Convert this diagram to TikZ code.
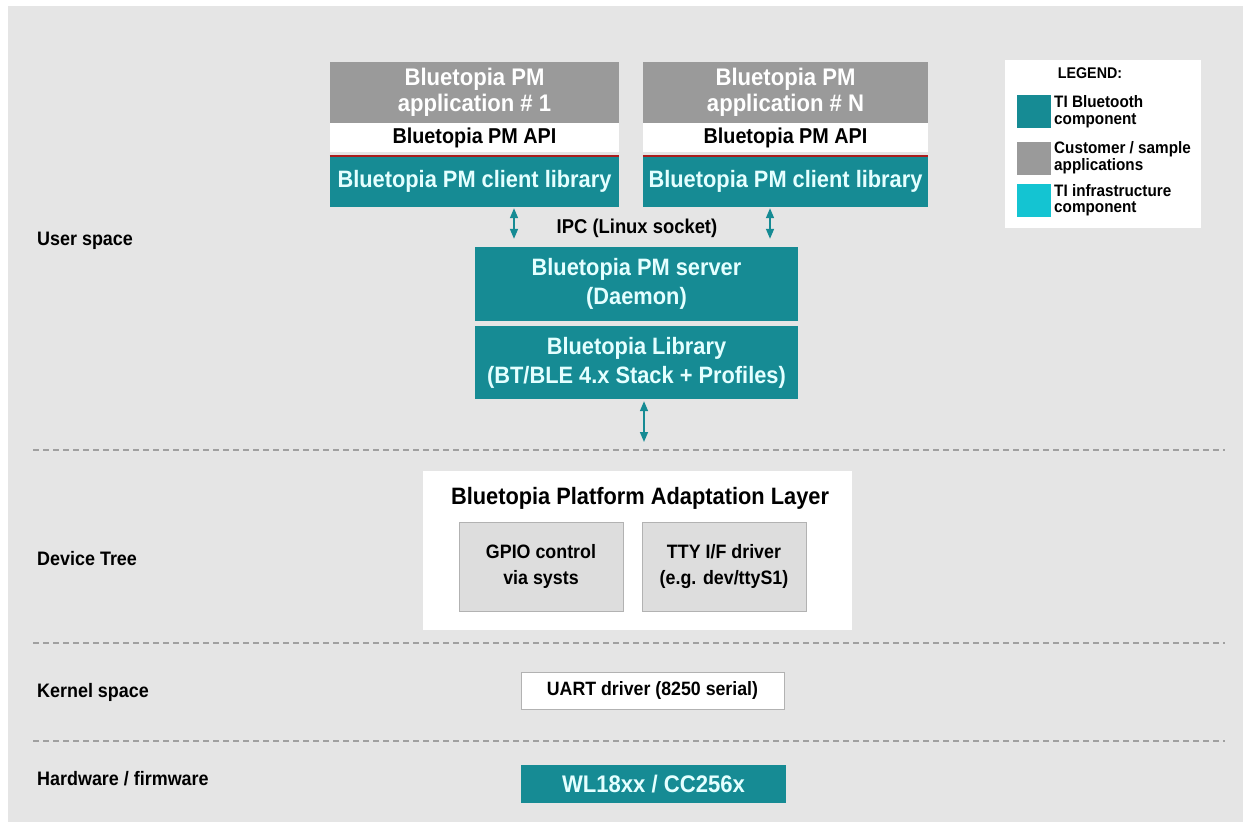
\documentclass[tikz,border=0pt]{standalone}
\usepackage{fontspec}
\setmainfont{Liberation Sans}[FakeStretch=0.92]
\usetikzlibrary{arrows.meta}
\definecolor{tiTeal}{RGB}{22,139,148}
\definecolor{tealText}{RGB}{228,255,255}
\definecolor{appGray}{RGB}{154,154,154}
\definecolor{infraCyan}{RGB}{20,196,210}
\definecolor{bgGray}{RGB}{229,229,229}
\definecolor{innerGray}{RGB}{221,221,221}
\definecolor{innerLine}{RGB}{178,178,178}
\definecolor{dashGray}{RGB}{160,160,160}
\definecolor{apiRed}{RGB}{170,30,30}
\begin{document}
\begin{tikzpicture}[x=1pt,y=-1pt,
  blk/.style={inner sep=0pt, align=center, font=\bfseries\fontsize{23.7}{29}\selectfont},
  tealbox/.style={blk, fill=tiTeal, text=tealText},
  appbox/.style={blk, fill=appGray, text=white, font=\bfseries\fontsize{24}{26}\selectfont},
  apibox/.style={blk, fill=white, text=black, font=\bfseries\fontsize{21.5}{24}\selectfont},
  innerbox/.style={blk, fill=innerGray, draw=innerLine, line width=1pt, text=black, font=\bfseries\fontsize{19.4}{26}\selectfont},
  lbl/.style={anchor=west, inner sep=0pt, font=\bfseries\fontsize{19.5}{22}\selectfont},
  legtxt/.style={anchor=west, inner sep=0pt, align=left, font=\bfseries\fontsize{16.6}{16.5}\selectfont},
  swatch/.style={minimum width=34pt, minimum height=33pt, inner sep=0pt},
  sep/.style={dashGray, line width=1.6pt, dash pattern=on 6pt off 4pt},
  arr/.style={tiTeal, line width=1.6pt, {Triangle[width=8pt,length=10pt]}-{Triangle[width=8pt,length=10pt]}}
]
\useasboundingbox (0,0) rectangle (1243,822);
\fill[white] (0,0) rectangle (1243,822);
\fill[bgGray] (8,6) rectangle (1243,822);

% separators
\coordinate (s1l) at (33,450); \coordinate (s1r) at (1225,450);
\coordinate (s2l) at (33,643); \coordinate (s2r) at (1225,643);
\coordinate (s3l) at (33,741); \coordinate (s3r) at (1225,741);
\draw[sep] (s1l) -- (s1r);
\draw[sep] (s2l) -- (s2r);
\draw[sep] (s3l) -- (s3r);

% layer labels
\node[lbl] (uspace) at (37,241) {User space};
\node[lbl] (dtree) at (37,559) {Device Tree};
\node[lbl] (kspace) at (37,692) {Kernel space};
\node[lbl] (hwfw) at (37,779) {Hardware / firmware};

% application stacks
\node[appbox, minimum width=289pt, minimum height=61pt] (app1) at (474.5,92.5) {Bluetopia PM\\application \# 1};
\node[apibox, minimum width=289pt, minimum height=29pt] (api1) at (474.5,137.5) {Bluetopia PM API};
\node[tealbox, minimum width=289pt, minimum height=52pt] (cl1) at (474.5,181) {Bluetopia PM client library};
\draw[apiRed, line width=2.5pt] ([yshift=-1.25pt]cl1.north west) -- ([yshift=-1.25pt]cl1.north east);

\node[appbox, minimum width=285pt, minimum height=61pt] (appN) at (785.5,92.5) {Bluetopia PM\\application \# N};
\node[apibox, minimum width=285pt, minimum height=29pt] (apiN) at (785.5,137.5) {Bluetopia PM API};
\node[tealbox, minimum width=285pt, minimum height=52pt] (clN) at (785.5,181) {Bluetopia PM client library};
\draw[apiRed, line width=2.5pt] ([yshift=-1.25pt]clN.north west) -- ([yshift=-1.25pt]clN.north east);

% IPC
\node[blk, font=\bfseries\fontsize{20}{22}\selectfont] (ipc) at (637,228) {IPC (Linux socket)};

% server and library
\node[tealbox, minimum width=323pt, minimum height=74pt] (server) at (636.5,284) {Bluetopia PM server\\(Daemon)};
\node[tealbox, minimum width=323pt, minimum height=73pt] (lib) at (636.5,362.5) {Bluetopia Library\\(BT/BLE 4.x Stack + Profiles)};

% arrows
\coordinate (a1x) at (514,0);
\coordinate (a2x) at (770,0);
\coordinate (a3x) at (644,0);
\coordinate (a3e) at (644,442);
\draw[arr, shorten <=1pt, shorten >=8pt] (cl1.south -| a1x) -- (server.north -| a1x);
\draw[arr, shorten <=1pt, shorten >=8pt] (clN.south -| a2x) -- (server.north -| a2x);
\draw[arr, shorten <=2pt] (lib.south -| a3x) -- (a3e);

% PAL
\node[blk, fill=white, minimum width=429pt, minimum height=159pt] (pal) at (637.5,550.5) {};
\node[blk, text=black, font=\bfseries\fontsize{23.7}{26}\selectfont] (paltitle) at (640,498) {Bluetopia Platform Adaptation Layer};
\node[innerbox, minimum width=164pt, minimum height=89pt] (gpio) at (541,566.5) {GPIO control\\via systs};
\node[innerbox, minimum width=164pt, minimum height=89pt] (tty) at (724,566.5) {TTY I/F driver\\(e.g. dev/ttyS1)};

% UART
\node[blk, fill=white, draw=innerLine, line width=0.8pt, text=black, font=\bfseries\fontsize{19.3}{22}\selectfont, minimum width=263pt, minimum height=37pt] (uart) at (652.5,690.5) {UART driver (8250 serial)};

% chip
\node[tealbox, font=\bfseries\fontsize{24}{26}\selectfont, minimum width=265pt, minimum height=38pt] (chip) at (653.5,784) {WL18xx / CC256x};

% legend
\node[blk, fill=white, minimum width=196pt, minimum height=168pt] (legend) at (1103,144) {};
\node[blk, text=black, font=\bfseries\fontsize{15.5}{16}\selectfont] (legtitle) at (1090,73) {LEGEND:};
\node[swatch, fill=tiTeal] (sw1) at (1033.5,111.5) {};
\node[swatch, fill=appGray] (sw2) at (1033.5,158) {};
\node[swatch, fill=infraCyan] (sw3) at (1033.5,200) {};
\node[legtxt] (lt1) at (1054,111.5) {TI Bluetooth\\component};
\node[legtxt] (lt2) at (1054,157.5) {Customer / sample\\applications};
\node[legtxt] (lt3) at (1054,200) {TI infrastructure\\component};
\end{tikzpicture}
\end{document}
